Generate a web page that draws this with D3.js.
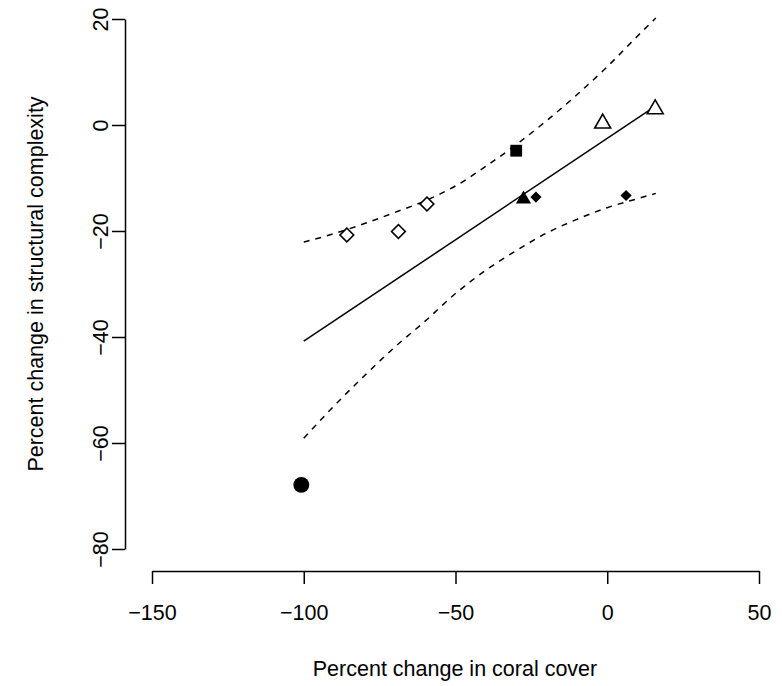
<!DOCTYPE html>
<html>
<head>
<meta charset="utf-8">
<script src="https://cdn.jsdelivr.net/npm/d3@7"></script>
<style>
    body { margin: 0; background: #fff; }
    svg { display: block; font-family: "Liberation Sans", Arial, Helvetica, sans-serif; }
</style>
</head>
<body>
<svg id="chart" width="782" height="686"></svg>
<script>
// Observed points (percent change in coral cover vs structural complexity)
var coralChange = [-100.8, -85.8, -68.8, -59.4, -30.0, -27.6, -23.5, 6.2, -1.5, 15.8];
var complexityChange = [-67.9, -20.75, -20.1, -14.9, -4.85, -14.0, -13.6, -13.3, 0.3, 3.0];
var pointShape = ['circle', 'openDiamond', 'openDiamond', 'openDiamond', 'square',
    'triangle', 'diamond', 'diamond', 'openTriangle', 'openTriangle'];

// Fitted line
var fitX = [-100, 16];
var fitY = [-40.8, 3.6];

// Confidence bands
var bandX = [-100, -90, -80, -70, -60, -50, -40, -30, -20, -10, 0, 10, 16];
var upperY = [-22.1, -20.5, -18.6, -16.5, -14.3, -11.5, -7.8, -3.7, 0.8, 5.7, 11.0, 16.8, 20.2];
var lowerY = [-59.1, -53.0, -47.3, -41.9, -37.0, -31.8, -27.4, -23.7, -20.4, -17.8, -15.6, -13.9, -12.9];

var xTicks = [-150, -100, -50, 0, 50];
var yTicks = [-80, -60, -40, -20, 0, 20];

var svg = d3.select('#chart');
var fontSize = '21.5px';

var xScale = d3.scaleLinear().domain([-150, 50]).range([152, 759]);
var yScale = d3.scaleLinear().domain([-80, 20]).range([549, 19]);

// Axes (R style: line only spans the ticks)
var xAxis = d3.axisBottom(xScale).tickValues(xTicks).tickSize(13).tickSizeOuter(0);
var yAxis = d3.axisLeft(yScale).tickValues(yTicks).tickSize(13).tickSizeOuter(0);

var xAxisGroup = svg.append('g')
    .attr('transform', 'translate(0,571)')
    .call(xAxis);
var yAxisGroup = svg.append('g')
    .attr('transform', 'translate(125,0)')
    .call(yAxis);

[xAxisGroup, yAxisGroup].forEach(function(g) {
    g.selectAll('path, line').attr('stroke', '#000').attr('stroke-width', 1.5);
    g.selectAll('text').style('font-size', fontSize).attr('fill', '#000');
});
xAxisGroup.selectAll('text').attr('y', 34);
yAxisGroup.selectAll('text')
    .attr('transform', 'rotate(-90)')
    .attr('text-anchor', 'middle')
    .attr('x', 0)
    .attr('dy', 0)
    .attr('y', -17);

// Axis titles
svg.append('text')
    .attr('x', 455)
    .attr('y', 676)
    .attr('text-anchor', 'middle')
    .style('font-size', fontSize)
    .text('Percent change in coral cover');

svg.append('text')
    .attr('transform', 'translate(43,284) rotate(-90)')
    .attr('text-anchor', 'middle')
    .style('font-size', fontSize)
    .text('Percent change in structural complexity');

var line = d3.line()
    .x(d => xScale(d[0]))
    .y(d => yScale(d[1]));

svg.append('path')
    .datum(d3.zip(fitX, fitY))
    .attr('d', line)
    .attr('fill', 'none')
    .attr('stroke', '#000')
    .attr('stroke-width', 1.5);

var bandLine = d3.line()
    .curve(d3.curveMonotoneX)
    .x(d => xScale(d[0]))
    .y(d => yScale(d[1]));

[d3.zip(bandX, upperY), d3.zip(bandX, lowerY)].forEach(function(band) {
    svg.append('path')
        .datum(band)
        .attr('d', bandLine)
        .attr('fill', 'none')
        .attr('stroke', '#000')
        .attr('stroke-width', 1.5)
        .attr('stroke-dasharray', '6,6');
});

// Point symbols
var shapes = {
    circle: {type: d3.symbolCircle, size: 200, fill: true, rotate: 0},
    openDiamond: {type: d3.symbolSquare, size: 95, fill: false, rotate: 45},
    square: {type: d3.symbolSquare, size: 140, fill: true, rotate: 0},
    triangle: {type: d3.symbolTriangle, size: 100, fill: true, rotate: 0},
    diamond: {type: d3.symbolSquare, size: 62, fill: true, rotate: 45},
    openTriangle: {type: d3.symbolTriangle, size: 110, fill: false, rotate: 0}
};

var points = coralChange.map(function(x, i) {
    return {x: x, y: complexityChange[i], shape: pointShape[i]};
});

svg.selectAll('.point').data(points)
    .enter()
    .append('path')
    .attr('class', 'point')
    .attr('d', d => d3.symbol().type(shapes[d.shape].type).size(shapes[d.shape].size)())
    .attr('transform', d => 'translate(' + xScale(d.x) + ',' + yScale(d.y) + ') rotate(' + shapes[d.shape].rotate + ')')
    .attr('fill', d => shapes[d.shape].fill ? '#000' : '#fff')
    .attr('stroke', '#000')
    .attr('stroke-width', d => shapes[d.shape].fill ? 0 : 1.6);
</script>
</body>
</html>
